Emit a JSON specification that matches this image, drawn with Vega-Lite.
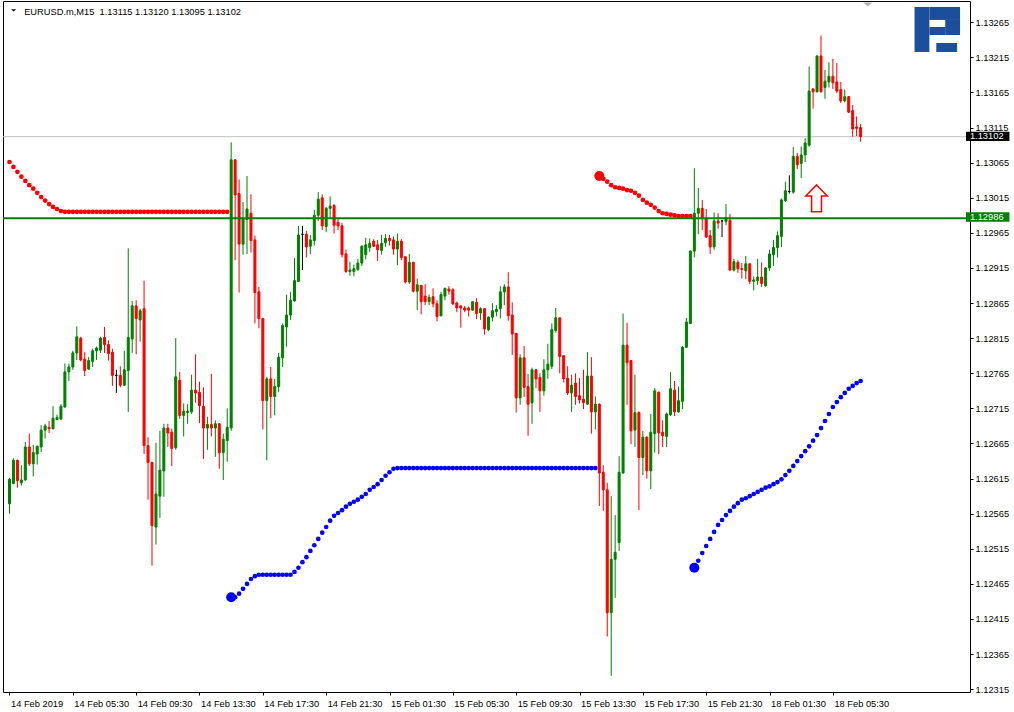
{
"$schema": "https://vega.github.io/schema/vega-lite/v6.json",
"width": 967, "height": 691,
"autosize": {"type": "none"},
"padding": {"left": 3, "top": 1, "right": 44, "bottom": 20},
"background": "#ffffff",
"config": {"view": {"stroke": "#000000", "strokeWidth": 1}, "font": "Liberation Sans"},
"resolve": {"axis": {"x": "independent", "y": "independent"}},
"datasets": {
"candles": [
{"i":0,"o":1.12579,"h":1.12616,"l":1.12565,"c":1.12614},
{"i":1,"o":1.12608,"h":1.12644,"l":1.12607,"c":1.12641},
{"i":2,"o":1.12641,"h":1.12642,"l":1.12602,"c":1.12612},
{"i":3,"o":1.12609,"h":1.12634,"l":1.12605,"c":1.12613},
{"i":4,"o":1.12613,"h":1.12667,"l":1.12612,"c":1.12660},
{"i":5,"o":1.12660,"h":1.12679,"l":1.12633,"c":1.12636},
{"i":6,"o":1.12636,"h":1.12663,"l":1.12618,"c":1.12652},
{"i":7,"o":1.12650,"h":1.12662,"l":1.12635,"c":1.12661},
{"i":8,"o":1.12660,"h":1.12691,"l":1.12653,"c":1.12684},
{"i":9,"o":1.12684,"h":1.12693,"l":1.12672,"c":1.12690},
{"i":10,"o":1.12688,"h":1.12697,"l":1.12680,"c":1.12686},
{"i":11,"o":1.12686,"h":1.12718,"l":1.12685,"c":1.12701},
{"i":12,"o":1.12699,"h":1.12706,"l":1.12698,"c":1.12702},
{"i":13,"o":1.12700,"h":1.12721,"l":1.12698,"c":1.12718},
{"i":14,"o":1.12717,"h":1.12779,"l":1.12716,"c":1.12767},
{"i":15,"o":1.12767,"h":1.12779,"l":1.12754,"c":1.12774},
{"i":16,"o":1.12774,"h":1.12797,"l":1.12770,"c":1.12794},
{"i":17,"o":1.12794,"h":1.12832,"l":1.12784,"c":1.12817},
{"i":18,"o":1.12815,"h":1.12817,"l":1.12782,"c":1.12784},
{"i":19,"o":1.12785,"h":1.12795,"l":1.12761,"c":1.12769},
{"i":20,"o":1.12771,"h":1.12788,"l":1.12770,"c":1.12783},
{"i":21,"o":1.12782,"h":1.12800,"l":1.12774,"c":1.12797},
{"i":22,"o":1.12797,"h":1.12803,"l":1.12784,"c":1.12801},
{"i":23,"o":1.12798,"h":1.12817,"l":1.12794,"c":1.12815},
{"i":24,"o":1.12816,"h":1.12831,"l":1.12794,"c":1.12806},
{"i":25,"o":1.12806,"h":1.12812,"l":1.12783,"c":1.12793},
{"i":26,"o":1.12795,"h":1.12800,"l":1.12747,"c":1.12762},
{"i":27,"o":1.12762,"h":1.12770,"l":1.12737,"c":1.12762},
{"i":28,"o":1.12762,"h":1.12775,"l":1.12745,"c":1.12748},
{"i":29,"o":1.12748,"h":1.12797,"l":1.12747,"c":1.12770},
{"i":30,"o":1.12769,"h":1.12943,"l":1.12710,"c":1.12816},
{"i":31,"o":1.12814,"h":1.12868,"l":1.12794,"c":1.12861},
{"i":32,"o":1.12861,"h":1.12869,"l":1.12792,"c":1.12843},
{"i":33,"o":1.12841,"h":1.12857,"l":1.12810,"c":1.12854},
{"i":34,"o":1.12857,"h":1.12897,"l":1.12650,"c":1.12662},
{"i":35,"o":1.12662,"h":1.12674,"l":1.12585,"c":1.12638},
{"i":36,"o":1.12638,"h":1.12639,"l":1.12491,"c":1.12548},
{"i":37,"o":1.12546,"h":1.12666,"l":1.12521,"c":1.12593},
{"i":38,"o":1.12590,"h":1.12683,"l":1.12559,"c":1.12627},
{"i":39,"o":1.12626,"h":1.12693,"l":1.12589,"c":1.12687},
{"i":40,"o":1.12687,"h":1.12693,"l":1.12660,"c":1.12680},
{"i":41,"o":1.12681,"h":1.12686,"l":1.12633,"c":1.12658},
{"i":42,"o":1.12659,"h":1.12815,"l":1.12656,"c":1.12760},
{"i":43,"o":1.12755,"h":1.12767,"l":1.12700,"c":1.12705},
{"i":44,"o":1.12705,"h":1.12722,"l":1.12675,"c":1.12711},
{"i":45,"o":1.12709,"h":1.12721,"l":1.12693,"c":1.12711},
{"i":46,"o":1.12710,"h":1.12763,"l":1.12707,"c":1.12741},
{"i":47,"o":1.12741,"h":1.12792,"l":1.12723,"c":1.12737},
{"i":48,"o":1.12738,"h":1.12753,"l":1.12694,"c":1.12719},
{"i":49,"o":1.12718,"h":1.12745,"l":1.12643,"c":1.12687},
{"i":50,"o":1.12687,"h":1.12703,"l":1.12656,"c":1.12692},
{"i":51,"o":1.12692,"h":1.12764,"l":1.12675,"c":1.12687},
{"i":52,"o":1.12687,"h":1.12698,"l":1.12646,"c":1.12693},
{"i":53,"o":1.12693,"h":1.12694,"l":1.12629,"c":1.12652},
{"i":54,"o":1.12652,"h":1.12679,"l":1.12613,"c":1.12671},
{"i":55,"o":1.12669,"h":1.12715,"l":1.12639,"c":1.12688},
{"i":56,"o":1.12687,"h":1.13094,"l":1.12683,"c":1.13069},
{"i":57,"o":1.13069,"h":1.13070,"l":1.12926,"c":1.13019},
{"i":58,"o":1.13021,"h":1.13041,"l":1.12880,"c":1.12949},
{"i":59,"o":1.12949,"h":1.13009,"l":1.12934,"c":1.12986},
{"i":60,"o":1.12984,"h":1.13046,"l":1.12935,"c":1.12999},
{"i":61,"o":1.12993,"h":1.13020,"l":1.12937,"c":1.12954},
{"i":62,"o":1.12955,"h":1.12961,"l":1.12836,"c":1.12880},
{"i":63,"o":1.12881,"h":1.12888,"l":1.12829,"c":1.12843},
{"i":64,"o":1.12843,"h":1.12844,"l":1.12685,"c":1.12726},
{"i":65,"o":1.12726,"h":1.12760,"l":1.12641,"c":1.12757},
{"i":66,"o":1.12757,"h":1.12774,"l":1.12701,"c":1.12732},
{"i":67,"o":1.12732,"h":1.12757,"l":1.12705,"c":1.12746},
{"i":68,"o":1.12746,"h":1.12794,"l":1.12738,"c":1.12788},
{"i":69,"o":1.12787,"h":1.12836,"l":1.12774,"c":1.12833},
{"i":70,"o":1.12831,"h":1.12877,"l":1.12803,"c":1.12848},
{"i":71,"o":1.12848,"h":1.12881,"l":1.12841,"c":1.12869},
{"i":72,"o":1.12868,"h":1.12929,"l":1.12867,"c":1.12897},
{"i":73,"o":1.12896,"h":1.12975,"l":1.12895,"c":1.12962},
{"i":74,"o":1.12963,"h":1.12975,"l":1.12912,"c":1.12963},
{"i":75,"o":1.12963,"h":1.12968,"l":1.12930,"c":1.12945},
{"i":76,"o":1.12946,"h":1.12962,"l":1.12935,"c":1.12955},
{"i":77,"o":1.12954,"h":1.12998,"l":1.12947,"c":1.12990},
{"i":78,"o":1.12990,"h":1.13023,"l":1.12982,"c":1.13013},
{"i":79,"o":1.13015,"h":1.13020,"l":1.12969,"c":1.12975},
{"i":80,"o":1.12974,"h":1.13002,"l":1.12966,"c":1.13000},
{"i":81,"o":1.13000,"h":1.13017,"l":1.12987,"c":1.13003},
{"i":82,"o":1.13004,"h":1.13006,"l":1.12964,"c":1.12976},
{"i":83,"o":1.12980,"h":1.12986,"l":1.12969,"c":1.12975},
{"i":84,"o":1.12975,"h":1.12979,"l":1.12930,"c":1.12934},
{"i":85,"o":1.12935,"h":1.12941,"l":1.12908,"c":1.12910},
{"i":86,"o":1.12910,"h":1.12924,"l":1.12904,"c":1.12912},
{"i":87,"o":1.12910,"h":1.12920,"l":1.12903,"c":1.12914},
{"i":88,"o":1.12913,"h":1.12928,"l":1.12911,"c":1.12922},
{"i":89,"o":1.12922,"h":1.12947,"l":1.12918,"c":1.12946},
{"i":90,"o":1.12934,"h":1.12958,"l":1.12927,"c":1.12948},
{"i":91,"o":1.12944,"h":1.12957,"l":1.12938,"c":1.12950},
{"i":92,"o":1.12953,"h":1.12956,"l":1.12945,"c":1.12946},
{"i":93,"o":1.12948,"h":1.12955,"l":1.12925,"c":1.12941},
{"i":94,"o":1.12940,"h":1.12962,"l":1.12934,"c":1.12950},
{"i":95,"o":1.12951,"h":1.12963,"l":1.12945,"c":1.12957},
{"i":96,"o":1.12957,"h":1.12962,"l":1.12947,"c":1.12954},
{"i":97,"o":1.12955,"h":1.12960,"l":1.12934,"c":1.12942},
{"i":98,"o":1.12942,"h":1.12964,"l":1.12919,"c":1.12953},
{"i":99,"o":1.12953,"h":1.12956,"l":1.12926,"c":1.12930},
{"i":100,"o":1.12931,"h":1.12931,"l":1.12893,"c":1.12895},
{"i":101,"o":1.12895,"h":1.12935,"l":1.12892,"c":1.12923},
{"i":102,"o":1.12923,"h":1.12924,"l":1.12880,"c":1.12882},
{"i":103,"o":1.12882,"h":1.12900,"l":1.12855,"c":1.12891},
{"i":104,"o":1.12890,"h":1.12891,"l":1.12849,"c":1.12867},
{"i":105,"o":1.12875,"h":1.12892,"l":1.12862,"c":1.12867},
{"i":106,"o":1.12867,"h":1.12877,"l":1.12862,"c":1.12873},
{"i":107,"o":1.12874,"h":1.12886,"l":1.12859,"c":1.12864},
{"i":108,"o":1.12864,"h":1.12869,"l":1.12839,"c":1.12846},
{"i":109,"o":1.12847,"h":1.12881,"l":1.12846,"c":1.12877},
{"i":110,"o":1.12875,"h":1.12887,"l":1.12869,"c":1.12886},
{"i":111,"o":1.12885,"h":1.12889,"l":1.12877,"c":1.12882},
{"i":112,"o":1.12884,"h":1.12886,"l":1.12862,"c":1.12864},
{"i":113,"o":1.12865,"h":1.12867,"l":1.12852,"c":1.12858},
{"i":114,"o":1.12861,"h":1.12861,"l":1.12830,"c":1.12858},
{"i":115,"o":1.12858,"h":1.12861,"l":1.12852,"c":1.12855},
{"i":116,"o":1.12858,"h":1.12860,"l":1.12846,"c":1.12855},
{"i":117,"o":1.12855,"h":1.12867,"l":1.12854,"c":1.12867},
{"i":118,"o":1.12866,"h":1.12872,"l":1.12842,"c":1.12850},
{"i":119,"o":1.12851,"h":1.12859,"l":1.12841,"c":1.12857},
{"i":120,"o":1.12857,"h":1.12858,"l":1.12820,"c":1.12828},
{"i":121,"o":1.12827,"h":1.12846,"l":1.12825,"c":1.12845},
{"i":122,"o":1.12845,"h":1.12865,"l":1.12839,"c":1.12854},
{"i":123,"o":1.12853,"h":1.12862,"l":1.12846,"c":1.12856},
{"i":124,"o":1.12857,"h":1.12889,"l":1.12843,"c":1.12881},
{"i":125,"o":1.12881,"h":1.12892,"l":1.12862,"c":1.12888},
{"i":126,"o":1.12888,"h":1.12909,"l":1.12840,"c":1.12847},
{"i":127,"o":1.12848,"h":1.12866,"l":1.12791,"c":1.12821},
{"i":128,"o":1.12822,"h":1.12822,"l":1.12709,"c":1.12730},
{"i":129,"o":1.12730,"h":1.12792,"l":1.12720,"c":1.12787},
{"i":130,"o":1.12787,"h":1.12804,"l":1.12731,"c":1.12745},
{"i":131,"o":1.12746,"h":1.12764,"l":1.12676,"c":1.12721},
{"i":132,"o":1.12723,"h":1.12773,"l":1.12693,"c":1.12770},
{"i":133,"o":1.12770,"h":1.12771,"l":1.12744,"c":1.12757},
{"i":134,"o":1.12759,"h":1.12765,"l":1.12710,"c":1.12740},
{"i":135,"o":1.12740,"h":1.12785,"l":1.12733,"c":1.12770},
{"i":136,"o":1.12770,"h":1.12807,"l":1.12757,"c":1.12778},
{"i":137,"o":1.12775,"h":1.12836,"l":1.12771,"c":1.12827},
{"i":138,"o":1.12826,"h":1.12858,"l":1.12823,"c":1.12844},
{"i":139,"o":1.12844,"h":1.12844,"l":1.12765,"c":1.12789},
{"i":140,"o":1.12790,"h":1.12790,"l":1.12752,"c":1.12757},
{"i":141,"o":1.12758,"h":1.12775,"l":1.12734,"c":1.12737},
{"i":142,"o":1.12737,"h":1.12763,"l":1.12710,"c":1.12748},
{"i":143,"o":1.12751,"h":1.12765,"l":1.12720,"c":1.12732},
{"i":144,"o":1.12733,"h":1.12758,"l":1.12722,"c":1.12727},
{"i":145,"o":1.12728,"h":1.12770,"l":1.12714,"c":1.12723},
{"i":146,"o":1.12721,"h":1.12795,"l":1.12720,"c":1.12761},
{"i":147,"o":1.12761,"h":1.12788,"l":1.12679,"c":1.12710},
{"i":148,"o":1.12710,"h":1.12732,"l":1.12685,"c":1.12721},
{"i":149,"o":1.12721,"h":1.12722,"l":1.12576,"c":1.12623},
{"i":150,"o":1.12624,"h":1.12634,"l":1.12569,"c":1.12599},
{"i":151,"o":1.12599,"h":1.12609,"l":1.12390,"c":1.12424},
{"i":152,"o":1.12424,"h":1.12590,"l":1.12334,"c":1.12500},
{"i":153,"o":1.12500,"h":1.12563,"l":1.12445,"c":1.12510},
{"i":154,"o":1.12524,"h":1.12647,"l":1.12512,"c":1.12624},
{"i":155,"o":1.12623,"h":1.12850,"l":1.12622,"c":1.12805},
{"i":156,"o":1.12805,"h":1.12837,"l":1.12720,"c":1.12780},
{"i":157,"o":1.12783,"h":1.12784,"l":1.12664,"c":1.12683},
{"i":158,"o":1.12684,"h":1.12763,"l":1.12660,"c":1.12709},
{"i":159,"o":1.12709,"h":1.12711,"l":1.12570,"c":1.12645},
{"i":160,"o":1.12645,"h":1.12683,"l":1.12620,"c":1.12674},
{"i":161,"o":1.12674,"h":1.12675,"l":1.12615,"c":1.12626},
{"i":162,"o":1.12626,"h":1.12707,"l":1.12600,"c":1.12681},
{"i":163,"o":1.12679,"h":1.12744,"l":1.12652,"c":1.12740},
{"i":164,"o":1.12738,"h":1.12739,"l":1.12650,"c":1.12680},
{"i":165,"o":1.12681,"h":1.12698,"l":1.12660,"c":1.12676},
{"i":166,"o":1.12675,"h":1.12709,"l":1.12660,"c":1.12707},
{"i":167,"o":1.12706,"h":1.12767,"l":1.12704,"c":1.12743},
{"i":168,"o":1.12741,"h":1.12754,"l":1.12704,"c":1.12710},
{"i":169,"o":1.12710,"h":1.12746,"l":1.12709,"c":1.12726},
{"i":170,"o":1.12725,"h":1.12804,"l":1.12714,"c":1.12802},
{"i":171,"o":1.12802,"h":1.12844,"l":1.12801,"c":1.12838},
{"i":172,"o":1.12836,"h":1.12940,"l":1.12835,"c":1.12939},
{"i":173,"o":1.12939,"h":1.13057,"l":1.12930,"c":1.12993},
{"i":174,"o":1.12993,"h":1.13029,"l":1.12963,"c":1.13000},
{"i":175,"o":1.13000,"h":1.13012,"l":1.12969,"c":1.12985},
{"i":176,"o":1.12986,"h":1.12999,"l":1.12958,"c":1.12959},
{"i":177,"o":1.12961,"h":1.12969,"l":1.12935,"c":1.12945},
{"i":178,"o":1.12945,"h":1.12994,"l":1.12941,"c":1.12982},
{"i":179,"o":1.12982,"h":1.12993,"l":1.12971,"c":1.12979},
{"i":180,"o":1.12982,"h":1.12983,"l":1.12959,"c":1.12982},
{"i":181,"o":1.12981,"h":1.13006,"l":1.12976,"c":1.12987},
{"i":182,"o":1.12983,"h":1.12992,"l":1.12911,"c":1.12912},
{"i":183,"o":1.12912,"h":1.12928,"l":1.12910,"c":1.12924},
{"i":184,"o":1.12923,"h":1.12926,"l":1.12908,"c":1.12914},
{"i":185,"o":1.12914,"h":1.12922,"l":1.12900,"c":1.12913},
{"i":186,"o":1.12911,"h":1.12932,"l":1.12899,"c":1.12921},
{"i":187,"o":1.12921,"h":1.12921,"l":1.12892,"c":1.12896},
{"i":188,"o":1.12896,"h":1.12903,"l":1.12883,"c":1.12898},
{"i":189,"o":1.12897,"h":1.12928,"l":1.12891,"c":1.12902},
{"i":190,"o":1.12902,"h":1.12923,"l":1.12888,"c":1.12893},
{"i":191,"o":1.12890,"h":1.12916,"l":1.12888,"c":1.12915},
{"i":192,"o":1.12915,"h":1.12941,"l":1.12911,"c":1.12935},
{"i":193,"o":1.12934,"h":1.12955,"l":1.12918,"c":1.12944},
{"i":194,"o":1.12944,"h":1.12967,"l":1.12930,"c":1.12961},
{"i":195,"o":1.12960,"h":1.13014,"l":1.12945,"c":1.13012},
{"i":196,"o":1.13011,"h":1.13038,"l":1.13009,"c":1.13025},
{"i":197,"o":1.13024,"h":1.13047,"l":1.13021,"c":1.13024},
{"i":198,"o":1.13023,"h":1.13087,"l":1.13021,"c":1.13074},
{"i":199,"o":1.13074,"h":1.13079,"l":1.13056,"c":1.13062},
{"i":200,"o":1.13064,"h":1.13088,"l":1.13043,"c":1.13076},
{"i":201,"o":1.13076,"h":1.13100,"l":1.13066,"c":1.13093},
{"i":202,"o":1.13090,"h":1.13202,"l":1.13088,"c":1.13167},
{"i":203,"o":1.13170,"h":1.13171,"l":1.13142,"c":1.13166},
{"i":204,"o":1.13166,"h":1.13218,"l":1.13165,"c":1.13217},
{"i":205,"o":1.13217,"h":1.13246,"l":1.13165,"c":1.13166},
{"i":206,"o":1.13172,"h":1.13197,"l":1.13156,"c":1.13181},
{"i":207,"o":1.13180,"h":1.13208,"l":1.13172,"c":1.13188},
{"i":208,"o":1.13188,"h":1.13213,"l":1.13170,"c":1.13179},
{"i":209,"o":1.13180,"h":1.13207,"l":1.13164,"c":1.13167},
{"i":210,"o":1.13169,"h":1.13180,"l":1.13150,"c":1.13153},
{"i":211,"o":1.13153,"h":1.13169,"l":1.13151,"c":1.13159},
{"i":212,"o":1.13159,"h":1.13160,"l":1.13136,"c":1.13137},
{"i":213,"o":1.13139,"h":1.13147,"l":1.13102,"c":1.13113},
{"i":214,"o":1.13116,"h":1.13131,"l":1.13103,"c":1.13114},
{"i":215,"o":1.13115,"h":1.13120,"l":1.13095,"c":1.13102}
],
"dots": [
{"i":0,"v":1.13066,"s":"r"},{"i":1,"v":1.13059,"s":"r"},{"i":2,"v":1.13052,"s":"r"},{"i":3,"v":1.13045,"s":"r"},{"i":4,"v":1.13039,"s":"r"},{"i":5,"v":1.13033,"s":"r"},{"i":6,"v":1.13028,"s":"r"},{"i":7,"v":1.13022,"s":"r"},{"i":8,"v":1.13016,"s":"r"},{"i":9,"v":1.13011,"s":"r"},{"i":10,"v":1.13006,"s":"r"},{"i":11,"v":1.13002,"s":"r"},{"i":12,"v":1.12999,"s":"r"},{"i":13,"v":1.12996,"s":"r"},
{"i":14,"v":1.12995,"s":"r"},{"i":15,"v":1.12995,"s":"r"},{"i":16,"v":1.12995,"s":"r"},{"i":17,"v":1.12995,"s":"r"},{"i":18,"v":1.12995,"s":"r"},{"i":19,"v":1.12995,"s":"r"},{"i":20,"v":1.12995,"s":"r"},{"i":21,"v":1.12995,"s":"r"},{"i":22,"v":1.12995,"s":"r"},{"i":23,"v":1.12995,"s":"r"},{"i":24,"v":1.12995,"s":"r"},{"i":25,"v":1.12995,"s":"r"},{"i":26,"v":1.12995,"s":"r"},{"i":27,"v":1.12995,"s":"r"},{"i":28,"v":1.12995,"s":"r"},{"i":29,"v":1.12995,"s":"r"},{"i":30,"v":1.12995,"s":"r"},{"i":31,"v":1.12995,"s":"r"},{"i":32,"v":1.12995,"s":"r"},{"i":33,"v":1.12995,"s":"r"},{"i":34,"v":1.12995,"s":"r"},{"i":35,"v":1.12995,"s":"r"},{"i":36,"v":1.12995,"s":"r"},{"i":37,"v":1.12995,"s":"r"},{"i":38,"v":1.12995,"s":"r"},{"i":39,"v":1.12995,"s":"r"},{"i":40,"v":1.12995,"s":"r"},{"i":41,"v":1.12995,"s":"r"},{"i":42,"v":1.12995,"s":"r"},{"i":43,"v":1.12995,"s":"r"},{"i":44,"v":1.12995,"s":"r"},{"i":45,"v":1.12995,"s":"r"},{"i":46,"v":1.12995,"s":"r"},{"i":47,"v":1.12995,"s":"r"},{"i":48,"v":1.12995,"s":"r"},{"i":49,"v":1.12995,"s":"r"},{"i":50,"v":1.12995,"s":"r"},{"i":51,"v":1.12995,"s":"r"},{"i":52,"v":1.12995,"s":"r"},{"i":53,"v":1.12995,"s":"r"},{"i":54,"v":1.12995,"s":"r"},{"i":55,"v":1.12995,"s":"r"},
{"i":56,"v":1.12446,"s":"b","f":1},{"i":57,"v":1.12446,"s":"b"},{"i":58,"v":1.12451,"s":"b"},{"i":59,"v":1.12458,"s":"b"},{"i":60,"v":1.12465,"s":"b"},{"i":61,"v":1.12472,"s":"b"},{"i":62,"v":1.12476,"s":"b"},{"i":63,"v":1.12478,"s":"b"},{"i":64,"v":1.12478,"s":"b"},{"i":65,"v":1.12478,"s":"b"},{"i":66,"v":1.12478,"s":"b"},{"i":67,"v":1.12478,"s":"b"},{"i":68,"v":1.12478,"s":"b"},{"i":69,"v":1.12478,"s":"b"},{"i":70,"v":1.12478,"s":"b"},{"i":71,"v":1.12478,"s":"b"},
{"i":72,"v":1.12482,"s":"b"},{"i":73,"v":1.12488,"s":"b"},{"i":74,"v":1.12496,"s":"b"},{"i":75,"v":1.12503,"s":"b"},{"i":76,"v":1.12512,"s":"b"},{"i":77,"v":1.12520,"s":"b"},{"i":78,"v":1.12529,"s":"b"},{"i":79,"v":1.12538,"s":"b"},{"i":80,"v":1.12546,"s":"b"},{"i":81,"v":1.12555,"s":"b"},{"i":82,"v":1.12562,"s":"b"},{"i":83,"v":1.12566,"s":"b"},{"i":84,"v":1.12570,"s":"b"},{"i":85,"v":1.12575,"s":"b"},{"i":86,"v":1.12579,"s":"b"},{"i":87,"v":1.12582,"s":"b"},{"i":88,"v":1.12585,"s":"b"},{"i":89,"v":1.12589,"s":"b"},{"i":90,"v":1.12593,"s":"b"},{"i":91,"v":1.12599,"s":"b"},{"i":92,"v":1.12603,"s":"b"},{"i":93,"v":1.12607,"s":"b"},{"i":94,"v":1.12613,"s":"b"},{"i":95,"v":1.12619,"s":"b"},{"i":96,"v":1.12624,"s":"b"},{"i":97,"v":1.12629,"s":"b"},
{"i":98,"v":1.12630,"s":"b"},{"i":99,"v":1.12630,"s":"b"},{"i":100,"v":1.12630,"s":"b"},{"i":101,"v":1.12630,"s":"b"},{"i":102,"v":1.12630,"s":"b"},{"i":103,"v":1.12630,"s":"b"},{"i":104,"v":1.12630,"s":"b"},{"i":105,"v":1.12630,"s":"b"},{"i":106,"v":1.12630,"s":"b"},{"i":107,"v":1.12630,"s":"b"},{"i":108,"v":1.12630,"s":"b"},{"i":109,"v":1.12630,"s":"b"},{"i":110,"v":1.12630,"s":"b"},{"i":111,"v":1.12630,"s":"b"},{"i":112,"v":1.12630,"s":"b"},{"i":113,"v":1.12630,"s":"b"},{"i":114,"v":1.12630,"s":"b"},{"i":115,"v":1.12630,"s":"b"},{"i":116,"v":1.12630,"s":"b"},{"i":117,"v":1.12630,"s":"b"},{"i":118,"v":1.12630,"s":"b"},{"i":119,"v":1.12630,"s":"b"},{"i":120,"v":1.12630,"s":"b"},{"i":121,"v":1.12630,"s":"b"},{"i":122,"v":1.12630,"s":"b"},{"i":123,"v":1.12630,"s":"b"},{"i":124,"v":1.12630,"s":"b"},{"i":125,"v":1.12630,"s":"b"},{"i":126,"v":1.12630,"s":"b"},{"i":127,"v":1.12630,"s":"b"},{"i":128,"v":1.12630,"s":"b"},{"i":129,"v":1.12630,"s":"b"},{"i":130,"v":1.12630,"s":"b"},{"i":131,"v":1.12630,"s":"b"},{"i":132,"v":1.12630,"s":"b"},{"i":133,"v":1.12630,"s":"b"},{"i":134,"v":1.12630,"s":"b"},{"i":135,"v":1.12630,"s":"b"},{"i":136,"v":1.12630,"s":"b"},{"i":137,"v":1.12630,"s":"b"},{"i":138,"v":1.12630,"s":"b"},{"i":139,"v":1.12630,"s":"b"},{"i":140,"v":1.12630,"s":"b"},{"i":141,"v":1.12630,"s":"b"},{"i":142,"v":1.12630,"s":"b"},{"i":143,"v":1.12630,"s":"b"},{"i":144,"v":1.12630,"s":"b"},{"i":145,"v":1.12630,"s":"b"},{"i":146,"v":1.12630,"s":"b"},{"i":147,"v":1.12630,"s":"b"},{"i":148,"v":1.12630,"s":"b"},
{"i":149,"v":1.13046,"s":"r","f":1},{"i":150,"v":1.13042,"s":"r"},{"i":151,"v":1.13038,"s":"r"},{"i":152,"v":1.13033,"s":"r"},{"i":153,"v":1.13030,"s":"r"},{"i":154,"v":1.13029,"s":"r"},{"i":155,"v":1.13028,"s":"r"},{"i":156,"v":1.13026,"s":"r"},{"i":157,"v":1.13025,"s":"r"},{"i":158,"v":1.13022,"s":"r"},{"i":159,"v":1.13018,"s":"r"},{"i":160,"v":1.13012,"s":"r"},{"i":161,"v":1.13008,"s":"r"},{"i":162,"v":1.13005,"s":"r"},{"i":163,"v":1.13001,"s":"r"},{"i":164,"v":1.12996,"s":"r"},{"i":165,"v":1.12993,"s":"r"},{"i":166,"v":1.12992,"s":"r"},{"i":167,"v":1.12991,"s":"r"},{"i":168,"v":1.12990,"s":"r"},{"i":169,"v":1.12989,"s":"r"},{"i":170,"v":1.12989,"s":"r"},{"i":171,"v":1.12989,"s":"r"},{"i":172,"v":1.12989,"s":"r"},
{"i":173,"v":1.12488,"s":"b","f":1},{"i":174,"v":1.12498,"s":"b"},{"i":175,"v":1.12509,"s":"b"},{"i":176,"v":1.12519,"s":"b"},{"i":177,"v":1.12529,"s":"b"},{"i":178,"v":1.12539,"s":"b"},{"i":179,"v":1.12549,"s":"b"},{"i":180,"v":1.12556,"s":"b"},{"i":181,"v":1.12563,"s":"b"},{"i":182,"v":1.12569,"s":"b"},{"i":183,"v":1.12575,"s":"b"},{"i":184,"v":1.12580,"s":"b"},{"i":185,"v":1.12585,"s":"b"},{"i":186,"v":1.12587,"s":"b"},{"i":187,"v":1.12590,"s":"b"},{"i":188,"v":1.12593,"s":"b"},{"i":189,"v":1.12596,"s":"b"},{"i":190,"v":1.12599,"s":"b"},{"i":191,"v":1.12602,"s":"b"},{"i":192,"v":1.12604,"s":"b"},{"i":193,"v":1.12607,"s":"b"},{"i":194,"v":1.12610,"s":"b"},{"i":195,"v":1.12614,"s":"b"},{"i":196,"v":1.12620,"s":"b"},{"i":197,"v":1.12626,"s":"b"},{"i":198,"v":1.12633,"s":"b"},{"i":199,"v":1.12640,"s":"b"},{"i":200,"v":1.12647,"s":"b"},{"i":201,"v":1.12654,"s":"b"},{"i":202,"v":1.12661,"s":"b"},{"i":203,"v":1.12669,"s":"b"},{"i":204,"v":1.12677,"s":"b"},{"i":205,"v":1.12687,"s":"b"},{"i":206,"v":1.12697,"s":"b"},{"i":207,"v":1.12707,"s":"b"},{"i":208,"v":1.12717,"s":"b"},{"i":209,"v":1.12724,"s":"b"},{"i":210,"v":1.12731,"s":"b"},{"i":211,"v":1.12737,"s":"b"},{"i":212,"v":1.12743,"s":"b"},{"i":213,"v":1.12747,"s":"b"},{"i":214,"v":1.12751,"s":"b"},{"i":215,"v":1.12754,"s":"b"}
],
"tags": [
{"t":"1.13102","p":1.131025,"top":1.131092,"bot":1.130959,"k":"bid"},
{"t":"1.12986","p":1.129877,"top":1.129943,"bot":1.12981,"k":"lvl"}
],
"logo": [
{"x1":228.625,"x2":232.375,"y1":1.132868,"y2":1.132227},
{"x1":232.375,"x2":240.125,"y1":1.132868,"y2":1.132683},
{"x1":236.375,"x2":240.125,"y1":1.132683,"y2":1.132469},
{"x1":232.375,"x2":236.375,"y1":1.132583,"y2":1.132469},
{"x1":234.125,"x2":239.375,"y1":1.132355,"y2":1.132227}
]
},
"layer": [
{"data": {"values": [{}]},
 "mark": {"type": "rule", "color": "#c0c0c0", "strokeWidth": 1},
 "encoding": {"y": {"datum": 1.13102, "type": "quantitative", "axis": null}}},
{"data": {"name": "candles"},
 "mark": {"type": "rule", "strokeWidth": 1},
 "encoding": {
  "x": {"field": "i", "type": "quantitative",
        "scale": {"domain": [-0.375, 241.375], "nice": false, "zero": false},
        "axis": {"title": null, "orient": "bottom", "values": [0,16,32,48,64,80,96,112,128,144,160,176,192,208],
                 "labelExpr": "['14 Feb 2019','14 Feb 05:30','14 Feb 09:30','14 Feb 13:30','14 Feb 17:30','14 Feb 21:30','15 Feb 01:30','15 Feb 05:30','15 Feb 09:30','15 Feb 13:30','15 Feb 17:30','15 Feb 21:30','18 Feb 01:30','18 Feb 05:30'][round(datum.value/16)]",
                 "grid": false, "domain": false, "ticks": true, "tickSize": 3, "tickColor": "#000000", "tickWidth": 1,
                 "labelAlign": "left", "labelBaseline": "alphabetic", "labelPadding": 11, "labelOffset": 1,
                 "labelFont": "Liberation Sans", "labelFontSize": 9.3, "labelColor": "#000000",
                 "labelOverlap": false, "labelFlush": false, "labelBound": false}},
  "y": {"field": "l", "type": "quantitative",
        "scale": {"domain": [1.12311, 1.132953], "nice": false, "zero": false},
        "axis": {"title": null, "orient": "right",
                 "values": [1.12315,1.12365,1.12415,1.12465,1.12515,1.12565,1.12615,1.12665,1.12715,1.12765,1.12815,1.12865,1.12915,1.12965,1.13015,1.13065,1.13115,1.13165,1.13215,1.13265],
                 "format": ".5f", "grid": false, "domain": false, "ticks": true, "tickSize": 3, "tickColor": "#000000", "tickWidth": 1,
                 "labelAlign": "left", "labelBaseline": "middle", "labelPadding": 2,
                 "labelFont": "Liberation Sans", "labelFontSize": 9.3, "labelColor": "#000000",
                 "labelOverlap": false, "labelFlush": false, "labelBound": false}},
  "y2": {"field": "h"},
  "color": {"condition": [{"test": "datum.c > datum.o", "value": "#008000"}, {"test": "datum.c < datum.o", "value": "#ff0000"}], "value": "#000000"}
 }},
{"data": {"name": "candles"},
 "mark": {"type": "bar", "size": 2, "strokeWidth": 1},
 "encoding": {
  "x": {"field": "i", "type": "quantitative", "axis": null},
  "y": {"field": "o", "type": "quantitative", "axis": null},
  "y2": {"field": "c"},
  "color": {"condition": [{"test": "datum.c > datum.o", "value": "#008000"}, {"test": "datum.c < datum.o", "value": "#ff0000"}], "value": "#000000"},
  "stroke": {"condition": [{"test": "datum.c > datum.o", "value": "#008000"}, {"test": "datum.c < datum.o", "value": "#ff0000"}], "value": "#000000"}
 }},
{"data": {"values": [{}]},
 "mark": {"type": "rule", "color": "#008000", "strokeWidth": 2},
 "encoding": {"y": {"datum": 1.12986, "type": "quantitative", "axis": null}}},
{"data": {"name": "dots"},
 "mark": {"type": "point", "shape": "circle", "filled": true, "opacity": 1, "strokeWidth": 0},
 "encoding": {
  "x": {"field": "i", "type": "quantitative", "axis": null},
  "y": {"field": "v", "type": "quantitative", "axis": null},
  "color": {"condition": {"test": "datum.s === 'r'", "value": "#ff0000"}, "value": "#0000ff"},
  "size": {"condition": {"test": "datum.f === 1", "value": 100}, "value": 22}
 }},
{"data": {"values": [{}]},
 "mark": {"type": "point", "shape": "M0,-1L0.8,-0.18L0.37,-0.18L0.37,1L-0.37,1L-0.37,-0.18L-0.8,-0.18Z", "size": 718, "filled": true, "fill": "#ffffff", "stroke": "#ff0000", "strokeWidth": 1.5, "opacity": 1},
 "encoding": {"x": {"datum": 203.875, "type": "quantitative", "axis": null}, "y": {"datum": 1.130142, "type": "quantitative", "axis": null}}},
{"data": {"name": "tags"},
 "mark": {"type": "rect"},
 "encoding": {
  "x": {"datum": 241.625, "type": "quantitative", "axis": null},
  "x2": {"datum": 252.6},
  "y": {"field": "top", "type": "quantitative", "axis": null},
  "y2": {"field": "bot"},
  "color": {"condition": {"test": "datum.k === 'bid'", "value": "#000000"}, "value": "#008000"}
 }},
{"data": {"name": "tags"},
 "mark": {"type": "text", "align": "left", "baseline": "middle", "font": "Liberation Sans", "fontSize": 9.3, "color": "#ffffff"},
 "encoding": {
  "x": {"datum": 242.625, "type": "quantitative", "axis": null},
  "y": {"field": "p", "type": "quantitative", "axis": null},
  "text": {"field": "t"}
 }},
{"data": {"values": [{}]},
 "mark": {"type": "text", "align": "left", "baseline": "alphabetic", "font": "Liberation Sans", "fontSize": 9.3, "color": "#000000"},
 "encoding": {"x": {"datum": 3.7, "type": "quantitative", "axis": null}, "y": {"datum": 1.132754, "type": "quantitative", "axis": null},
  "text": {"value": "EURUSD.m,M15\u00a0 1.13115 1.13120 1.13095 1.13102"}}},
{"data": {"values": [{}]},
 "mark": {"type": "point", "shape": "M-1,-0.45L1,-0.45L0,0.45Z", "size": 25, "filled": true, "color": "#000000", "opacity": 1},
 "encoding": {"x": {"datum": 1.05, "type": "quantitative", "axis": null}, "y": {"datum": 1.132821, "type": "quantitative", "axis": null}}},
{"data": {"values": [{}]},
 "mark": {"type": "point", "shape": "M-1,-0.45L1,-0.45L0,0.45Z", "size": 81, "filled": true, "color": "#b4b4b4", "opacity": 1},
 "encoding": {"x": {"datum": 216.8, "type": "quantitative", "axis": null}, "y": {"datum": 1.132904, "type": "quantitative", "axis": null}}},
{"data": {"name": "logo"},
 "mark": {"type": "rect", "color": "#1b4f9b"},
 "encoding": {
  "x": {"field": "x1", "type": "quantitative", "axis": null},
  "x2": {"field": "x2"},
  "y": {"field": "y1", "type": "quantitative", "axis": null},
  "y2": {"field": "y2"}
 }}
]
}
